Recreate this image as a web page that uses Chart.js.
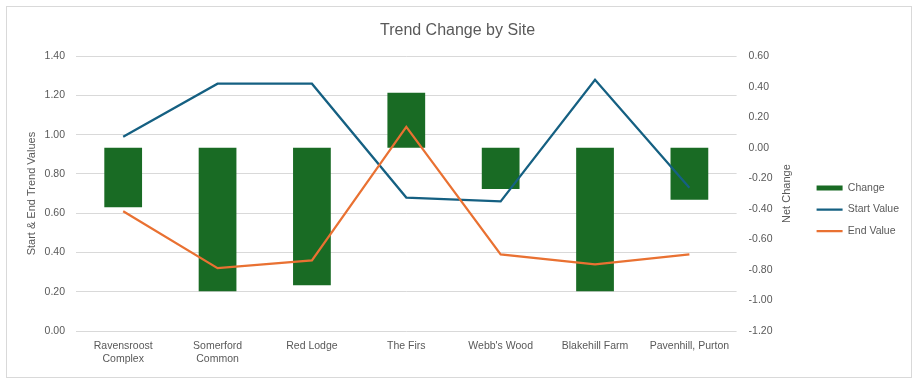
<!DOCTYPE html>
<html>
<head>
<meta charset="utf-8">
<script src="https://cdn.jsdelivr.net/npm/chart.js@4.4.1/dist/chart.umd.min.js"></script>
<style>
  html, body { margin: 0; padding: 0; background: #fff; }
  #wrap { position: relative; width: 916px; height: 381px; }
  #frame { position: absolute; left: 6px; top: 6px; width: 904px; height: 370px; border: 1px solid #d9d9d9; }
  #chart { position: absolute; left: 0; top: 0; }
</style>
</head>
<body>
<div id="wrap">
  <div id="frame"></div>
  <canvas id="chart" width="916" height="381"></canvas>
</div>
<script>
// data
const sites = [["Ravensroost", "Complex"], ["Somerford", "Common"], "Red Lodge", "The Firs", "Webb's Wood", "Blakehill Farm", "Pavenhill, Purton"];
const changeValues = [-0.39, -0.94, -0.90, 0.36, -0.27, -0.94, -0.34];
const startValues = [0.99, 1.26, 1.26, 0.68, 0.66, 1.28, 0.73];
const endValues = [0.61, 0.32, 0.36, 1.04, 0.39, 0.34, 0.39];
const leftRange = [0, 1.4];      // Start & End Trend Values
const rightRange = [-1.2, 0.6];  // Net Change
const tickStep = 0.2;

const FONT = '"Liberation Sans", Arial, sans-serif';
const GREY = "#595959";

// Excel puts the right axis title reading bottom-to-top, Chart.js would rotate it the other way
const netChangeTitle = {
    id: "netChangeTitle",
    afterDraw(chart) {
        const s = chart.scales.y1;
        const area = chart.chartArea;
        const ctx = chart.ctx;
        ctx.save();
        ctx.translate(s.right - 19, (area.top + area.bottom) / 2);
        ctx.rotate(-Math.PI / 2);
        ctx.font = "11px " + FONT;
        ctx.fillStyle = GREY;
        ctx.textAlign = "center";
        ctx.textBaseline = "middle";
        ctx.fillText("Net Change", 0, 0);
        ctx.restore();
    }
};

new Chart(document.getElementById("chart"), {
    data: {
        labels: sites,
        datasets: [
            {
                type: "bar",
                label: "Change",
                data: changeValues,
                yAxisID: "y1",
                backgroundColor: "#196b24",
                barPercentage: 0.4,
                categoryPercentage: 1,
                pointStyle: "rect",
                order: 2
            },
            {
                type: "line",
                label: "Start Value",
                data: startValues,
                yAxisID: "y",
                borderColor: "#156082",
                backgroundColor: "#156082",
                borderWidth: 2.25,
                pointRadius: 0,
                pointStyle: "line",
                tension: 0,
                order: 1
            },
            {
                type: "line",
                label: "End Value",
                data: endValues,
                yAxisID: "y",
                borderColor: "#e97132",
                backgroundColor: "#e97132",
                borderWidth: 2.25,
                pointRadius: 0,
                pointStyle: "line",
                tension: 0,
                order: 0
            }
        ]
    },
    options: {
        responsive: false,
        animation: false,
        layout: { padding: { left: 6, right: 7, top: 6, bottom: 6 } },
        plugins: {
            title: {
                display: true,
                text: "Trend Change by Site",
                color: GREY,
                font: { family: FONT, size: 16, weight: "normal" },
                padding: { top: 15, bottom: 16 }
            },
            legend: {
                position: "right",
                // empty legend title only pushes the items down to where Excel has them
                title: { display: true, text: "", font: { size: 10 }, padding: { top: 0, bottom: 26 } },
                labels: {
                    color: GREY,
                    font: { family: FONT, size: 10.5 },
                    usePointStyle: true,
                    pointStyleWidth: 26,
                    boxHeight: 5,
                    padding: 11,
                    sort: (a, b) => a.datasetIndex - b.datasetIndex
                }
            },
            tooltip: { enabled: false }
        },
        scales: {
            x: {
                grid: { display: false, drawTicks: false },
                border: { display: false },
                ticks: { color: GREY, font: { family: FONT, size: 10.5 }, padding: 9, maxRotation: 0, autoSkip: false },
                afterFit: s => { s.height = 44; }
            },
            y: {
                position: "left",
                min: leftRange[0],
                max: leftRange[1],
                grid: { color: "#d9d9d9", drawTicks: false },
                border: { display: false },
                ticks: {
                    stepSize: tickStep,
                    color: GREY,
                    font: { family: FONT, size: 10.5 },
                    padding: 11,
                    callback: v => v.toFixed(2)
                },
                title: {
                    display: true,
                    text: "Start & End Trend Values",
                    color: GREY,
                    font: { family: FONT, size: 11 },
                    padding: { top: 19, bottom: 4 }
                },
                afterFit: s => { s.width = 70; }
            },
            y1: {
                position: "right",
                min: rightRange[0],
                max: rightRange[1],
                grid: { display: false, drawTicks: false },
                border: { display: false },
                ticks: {
                    stepSize: tickStep,
                    color: GREY,
                    font: { family: FONT, size: 10.5 },
                    padding: 12,
                    callback: v => v.toFixed(2)
                },
                afterFit: s => { s.width = 69; }
            }
        }
    },
    plugins: [netChangeTitle]
});
</script>
</body>
</html>
